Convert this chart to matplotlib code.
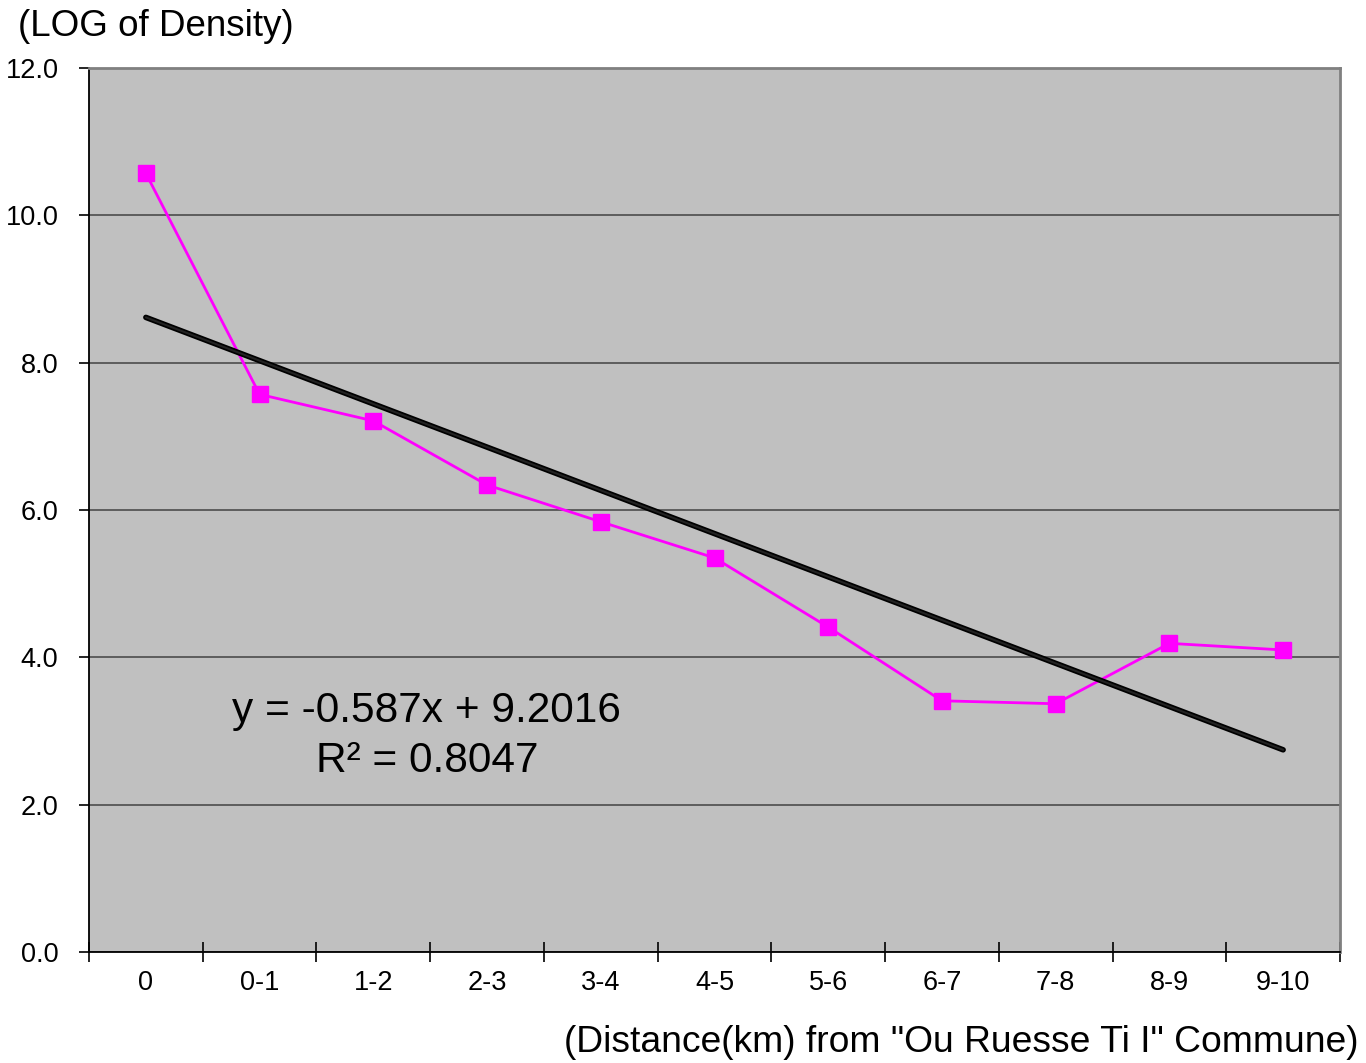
import numpy as np
import matplotlib
matplotlib.use('Agg')
import matplotlib.pyplot as plt

# Datos del gráfico
categorias = ['0', '0-1', '1-2', '2-3', '3-4', '4-5', '5-6', '6-7', '7-8', '8-9', '9-10']
log_densidad = [10.57, 7.57, 7.21, 6.34, 5.84, 5.35, 4.41, 3.41, 3.37, 4.19, 4.10]
pendiente = -0.587
intercepto = 9.2016
r2 = 0.8047

plt.rcParams['font.family'] = ['Liberation Sans', 'DejaVu Sans']

fig = plt.figure(figsize=(13.66, 10.63), dpi=100)
ax = fig.add_axes([89 / 1366, 1 - 952 / 1063, (1340 - 89) / 1366, (952 - 68) / 1063])
ax.set_facecolor('#c0c0c0')

x = np.arange(1, len(categorias) + 1)

# Líneas de cuadrícula
ax.set_ylim(0, 12)
ax.set_xlim(0.5, len(categorias) + 0.5)
ax.set_yticks(np.arange(0, 12.1, 2))
ax.set_yticklabels(['%.1f' % v for v in np.arange(0, 12.1, 2)], fontsize=19.5)
ax.yaxis.grid(True, color='#555555', linewidth=1.3)
ax.set_axisbelow(True)

# Serie de datos
ax.plot(x, log_densidad, color='#ff00ff', linewidth=2, marker='s', markersize=12,
        markeredgecolor='#ff00ff', zorder=3)

# Línea de tendencia
ax.plot(x, pendiente * x + intercepto, color='black', linewidth=4,
        solid_capstyle='round', zorder=4)
ax.plot(x, pendiente * x + intercepto, color='#222222', linewidth=1.5,
        solid_capstyle='round', zorder=4)

ax.text(3.47, 2.93, 'y = %.3fx + %.4f\nR² = %.4f' % (pendiente, intercepto, r2),
        fontsize=30.5, ha='center', va='center', linespacing=1.32)

# Ejes
ax.set_xticks(x)
ax.set_xticklabels(categorias, fontsize=19.5)
ax.set_xticks(np.arange(0.5, len(categorias) + 1, 1), minor=True)
ax.tick_params(axis='x', which='major', length=0, pad=13)
ax.tick_params(axis='x', which='minor', direction='inout', length=14, width=1.2)
ax.tick_params(axis='y', which='major', direction='out', length=7, width=1.2, pad=15)

for lado in ['left', 'bottom']:
    ax.spines[lado].set_color('black')
    ax.spines[lado].set_linewidth(1.3)
for lado in ['top', 'right']:
    ax.spines[lado].set_color('#808080')
    ax.spines[lado].set_linewidth(2)

fig.text(18 / 1366, 1 - 26 / 1063, '(LOG of Density)', fontsize=26.5, ha='left', va='center')
fig.text(1358 / 1366, 1 - 1043 / 1063, '(Distance(km) from "Ou Ruesse Ti I" Commune)',
         fontsize=26.8, ha='right', va='center')

fig.savefig('out.png', dpi=100)
